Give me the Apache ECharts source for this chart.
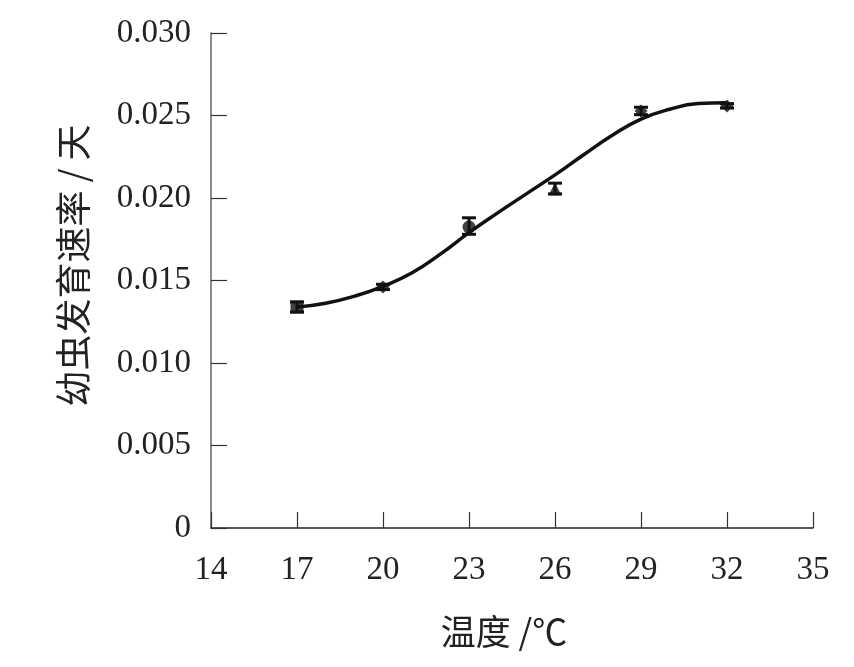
<!DOCTYPE html>
<html>
<head>
<meta charset="utf-8">
<script src="https://cdn.jsdelivr.net/npm/echarts@6/dist/echarts.min.js"></script>
<style>html,body{margin:0;padding:0;background:#fff;}#c{width:854px;height:667px;}</style>
</head>
<body>
<div id="c"></div>
<script>
// Observed data points
const temps = [17, 20, 23, 26, 29, 32];
const rates = [0.01339, 0.01461, 0.01824, 0.02055, 0.02527, 0.02558];
const errLow = [0.01309, 0.01445, 0.01780, 0.02025, 0.02505, 0.02545];
const errHigh = [0.01370, 0.01477, 0.01880, 0.02090, 0.02550, 0.02572];
const symbols = ['rect', 'diamond', 'circle', 'triangle', 'diamond', 'diamond'];
// Fitted curve
const curveT = [17, 18, 19, 20, 21, 22, 23, 24, 25, 26, 27, 28, 29, 30, 31, 32];
const curveV = [0.01339, 0.01362, 0.01405, 0.01465, 0.01545, 0.01660, 0.01790, 0.01910, 0.02025, 0.02140, 0.02262, 0.02380, 0.02478, 0.02538, 0.02572, 0.02578];
const xTicks = [14, 17, 20, 23, 26, 29, 32, 35];
const yTicks = [0, 0.005, 0.010, 0.015, 0.020, 0.025, 0.030];

const serif = '"Liberation Serif", "Times New Roman", serif';
const cjk = '"Noto Sans CJK SC", serif';
const chart = echarts.init(document.getElementById('c'), null, {renderer: 'canvas'});
chart.setOption({
  animation: false,
  grid: {left: 211, top: 33, width: 602, height: 495, containLabel: false},
  xAxis: {
    type: 'value', min: xTicks[0], max: xTicks[xTicks.length - 1], interval: 3,
    splitLine: {show: false},
    axisLine: {lineStyle: {color: '#222', width: 1.5}},
    axisTick: {inside: true, length: 16, lineStyle: {color: '#333', width: 1.2}},
    axisLabel: {fontFamily: serif, fontSize: 33, color: '#222', margin: 26},
    name: '温度 /℃', nameLocation: 'middle', nameGap: 86,
    nameTextStyle: {fontFamily: cjk, fontSize: 35, color: '#222', padding: [0, 16, 0, 0]}
  },
  yAxis: {
    type: 'value', min: yTicks[0], max: yTicks[yTicks.length - 1], interval: 0.005,
    splitLine: {show: false},
    axisLine: {lineStyle: {color: '#666', width: 1.5}},
    axisTick: {inside: true, length: 16, lineStyle: {color: '#333', width: 1.2}},
    axisLabel: {fontFamily: serif, fontSize: 33, color: '#222', margin: 20,
      formatter: v => v === 0 ? '0' : v.toFixed(3)},
    name: '幼虫发育速率 / 天', nameLocation: 'middle', nameGap: 120, nameRotate: 90,
    nameTextStyle: {fontFamily: cjk, fontSize: 36, color: '#222', padding: [0, 0, 0, 30]}
  },
  series: [
    {
      type: 'line', smooth: 0.5, showSymbol: false, symbol: 'none',
      lineStyle: {color: '#111', width: 3.5},
      data: curveT.map((t, i) => [t, curveV[i]]), z: 2
    },
    {
      type: 'custom', z: 3,
      renderItem: function (params, api) {
        const x = api.value(0);
        const lo = api.coord([x, api.value(1)]);
        const hi = api.coord([x, api.value(2)]);
        const w = 7;
        const style = {stroke: '#111', lineWidth: 3};
        return {type: 'group', children: [
          {type: 'line', shape: {x1: lo[0], y1: lo[1], x2: hi[0], y2: hi[1]}, style: style},
          {type: 'line', shape: {x1: lo[0] - w, y1: lo[1], x2: lo[0] + w, y2: lo[1]}, style: style},
          {type: 'line', shape: {x1: hi[0] - w, y1: hi[1], x2: hi[0] + w, y2: hi[1]}, style: style}
        ]};
      },
      data: temps.map((t, i) => [t, errLow[i], errHigh[i]])
    },
    {
      type: 'scatter', z: 4,
      itemStyle: {color: '#111'},
      data: temps.map((t, i) => ({value: [t, rates[i]], symbol: symbols[i], symbolSize: 13}))
    }
  ]
});
</script>
</body>
</html>
